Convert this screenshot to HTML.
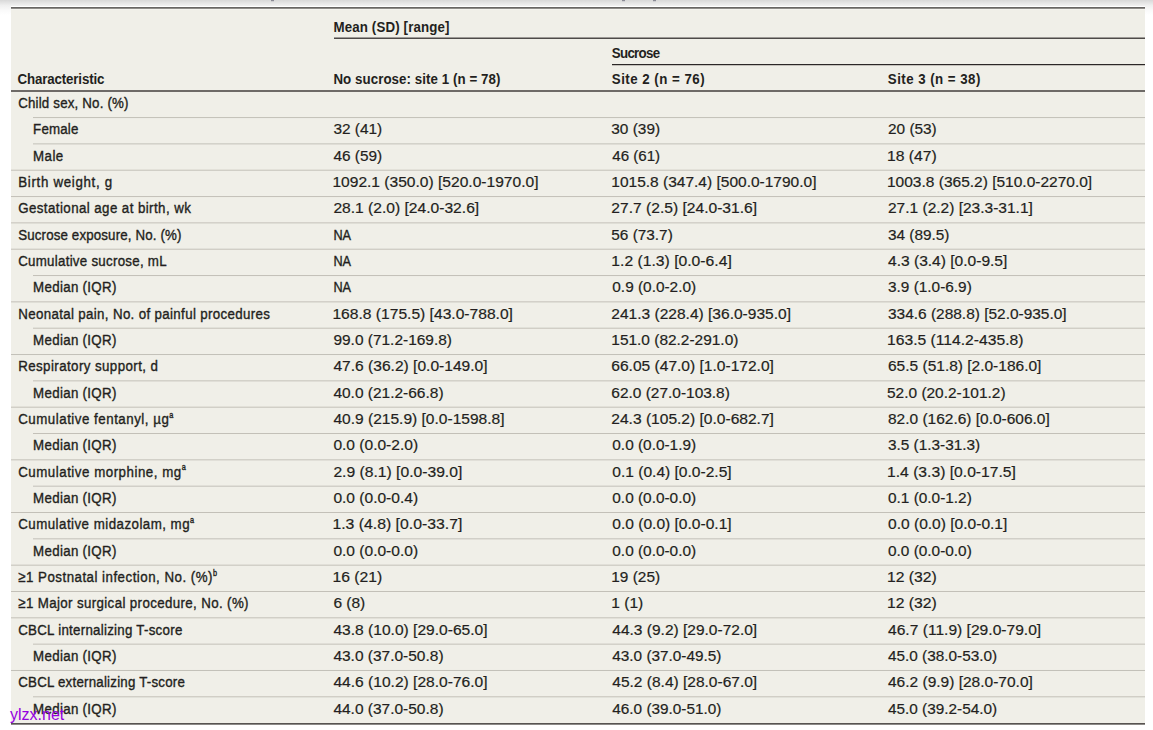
<!DOCTYPE html>
<html><head><meta charset="utf-8"><style>
html,body{margin:0;padding:0;background:#fff;width:1153px;height:730px;overflow:hidden}
svg{display:block}
text{font-family:"Liberation Sans",sans-serif;font-size:15.5px;fill:#231f20;stroke:#231f20;stroke-width:0.2px}
text[font-weight=bold]{stroke-width:0.0px}
.lb{stroke-width:0.38px}
.hb{stroke-width:0.8px}
.w{font-family:"Liberation Sans",sans-serif;font-size:16px;fill:#9600e0;stroke:none}
</style></head><body>
<svg width="1153" height="730" viewBox="0 0 1153 730">
<defs><linearGradient id="tg" x1="0" y1="0" x2="0" y2="1">
<stop offset="0" stop-color="#d8d8d8"/><stop offset="0.35" stop-color="#efefef"/><stop offset="0.7" stop-color="#fafafa"/><stop offset="1" stop-color="#ffffff"/></linearGradient></defs>
<rect x="0" y="0" width="1153" height="15" fill="url(#tg)"/>
<rect x="11" y="6" width="1134" height="1" fill="#ffffff"/>
<rect x="271" y="0" width="3" height="1.2" fill="#8a8a95"/><rect x="622" y="0" width="3" height="1.2" fill="#8a8a95"/><rect x="653" y="0" width="3" height="1.2" fill="#8a8a95"/>
<rect x="11" y="7" width="1134" height="718" fill="#f0efe8"/>
<rect x="11" y="7" width="1134" height="1" fill="#686664"/>
<rect x="11" y="8" width="1134" height="1" fill="#8e8c89"/>
<rect x="11" y="9" width="1134" height="1" fill="#f4f3ee"/>
<rect x="334" y="37" width="811" height="1" fill="#9d9a96"/>
<rect x="334" y="38" width="811" height="1" fill="#4e4a49"/>
<rect x="612" y="64" width="533" height="1" fill="#2b2727"/>
<rect x="612" y="65" width="533" height="1" fill="#c4c1bb"/>
<rect x="11" y="90" width="1134" height="2" fill="#6e6a67"/>
<rect x="11" y="723" width="1134" height="1" fill="#575351"/>
<rect x="11" y="724" width="1134" height="1" fill="#8d8a87"/>
<rect x="33" y="117.05" width="1112" height="1" fill="#c3c0b8"/>
<rect x="33" y="143.38" width="1112" height="1" fill="#c3c0b8"/>
<rect x="11" y="169.71" width="1134" height="1" fill="#c3c0b8"/>
<rect x="11" y="196.04" width="1134" height="1" fill="#c3c0b8"/>
<rect x="11" y="222.37" width="1134" height="1" fill="#c3c0b8"/>
<rect x="11" y="248.70" width="1134" height="1" fill="#c3c0b8"/>
<rect x="33" y="275.03" width="1112" height="1" fill="#c3c0b8"/>
<rect x="11" y="301.36" width="1134" height="1" fill="#c3c0b8"/>
<rect x="33" y="327.69" width="1112" height="1" fill="#c3c0b8"/>
<rect x="11" y="354.02" width="1134" height="1" fill="#c3c0b8"/>
<rect x="33" y="380.35" width="1112" height="1" fill="#c3c0b8"/>
<rect x="11" y="406.68" width="1134" height="1" fill="#c3c0b8"/>
<rect x="33" y="433.01" width="1112" height="1" fill="#c3c0b8"/>
<rect x="11" y="459.34" width="1134" height="1" fill="#c3c0b8"/>
<rect x="33" y="485.67" width="1112" height="1" fill="#c3c0b8"/>
<rect x="11" y="512.00" width="1134" height="1" fill="#c3c0b8"/>
<rect x="33" y="538.33" width="1112" height="1" fill="#c3c0b8"/>
<rect x="11" y="564.66" width="1134" height="1" fill="#c3c0b8"/>
<rect x="11" y="590.99" width="1134" height="1" fill="#c3c0b8"/>
<rect x="11" y="617.32" width="1134" height="1" fill="#c3c0b8"/>
<rect x="33" y="643.65" width="1112" height="1" fill="#c3c0b8"/>
<rect x="11" y="669.98" width="1134" height="1" fill="#c3c0b8"/>
<rect x="33" y="696.31" width="1112" height="1" fill="#c3c0b8"/>
<text transform="translate(333.40,31.90) scale(0.8600,1)" font-weight="bold" letter-spacing="0.160">Mean (SD) [range]</text>
<text transform="translate(611.80,57.60) scale(0.8600,1)" font-weight="bold" letter-spacing="-0.814">Sucrose</text>
<text transform="translate(17.60,84.00) scale(0.8600,1)" font-weight="bold" letter-spacing="-0.179">Characteristic</text>
<text transform="translate(333.40,84.00) scale(0.8600,1)" font-weight="bold" letter-spacing="0.072">No sucrose: site 1 (n = 78)</text>
<text transform="translate(611.80,84.00) scale(0.8600,1)" font-weight="bold" letter-spacing="0.548">Site 2 (n = 76)</text>
<text transform="translate(887.80,84.00) scale(0.8600,1)" font-weight="bold" letter-spacing="0.532">Site 3 (n = 38)</text>
<text transform="translate(18.20,107.97) scale(0.8600,1)" class="lb" letter-spacing="0.205">Child sex, No. (%)</text>
<text transform="translate(33.10,134.30) scale(0.8600,1)" class="lb" letter-spacing="0.186">Female</text>
<text transform="translate(333.40,134.30) scale(0.9923,1)">32 (41)</text>
<text transform="translate(611.30,134.30) scale(0.9945,1)">30 (39)</text>
<text transform="translate(888.00,134.30) scale(0.9928,1)">20 (53)</text>
<text transform="translate(33.10,160.63) scale(0.8600,1)" class="lb" letter-spacing="0.504">Male</text>
<text transform="translate(333.40,160.63) scale(0.9923,1)">46 (59)</text>
<text transform="translate(612.30,160.63) scale(0.9742,1)">46 (61)</text>
<text transform="translate(887.00,160.63) scale(1.0153,1)">18 (47)</text>
<text transform="translate(18.20,186.96) scale(0.8600,1)" class="lb" letter-spacing="0.797">Birth weight, g</text>
<text transform="translate(332.40,186.96) scale(1.0054,1)">1092.1 (350.0) [520.0-1970.0]</text>
<text transform="translate(611.30,186.96) scale(1.0005,1)">1015.8 (347.4) [500.0-1790.0]</text>
<text transform="translate(887.00,186.96) scale(1.0004,1)">1003.8 (365.2) [510.0-2270.0]</text>
<text transform="translate(18.20,213.29) scale(0.8600,1)" class="lb" letter-spacing="0.487">Gestational age at birth, wk</text>
<text transform="translate(333.40,213.29) scale(1.0077,1)">28.1 (2.0) [24.0-32.6]</text>
<text transform="translate(611.30,213.29) scale(1.0078,1)">27.7 (2.5) [24.0-31.6]</text>
<text transform="translate(888.00,213.29) scale(1.0010,1)">27.1 (2.2) [23.3-31.1]</text>
<text transform="translate(18.20,239.62) scale(0.8600,1)" class="lb" letter-spacing="0.165">Sucrose exposure, No. (%)</text>
<text transform="translate(333.40,239.62) scale(0.8198,1)" class="lb">NA</text>
<text transform="translate(611.30,239.62) scale(0.9921,1)">56 (73.7)</text>
<text transform="translate(888.00,239.62) scale(0.9916,1)">34 (89.5)</text>
<text transform="translate(18.20,265.95) scale(0.8600,1)" class="lb" letter-spacing="0.310">Cumulative sucrose, mL</text>
<text transform="translate(333.40,265.95) scale(0.8198,1)" class="lb">NA</text>
<text transform="translate(611.30,265.95) scale(1.0139,1)">1.2 (1.3) [0.0-6.4]</text>
<text transform="translate(888.00,265.95) scale(1.0051,1)">4.3 (3.4) [0.0-9.5]</text>
<text transform="translate(33.10,292.28) scale(0.8600,1)" class="lb" letter-spacing="0.359">Median (IQR)</text>
<text transform="translate(333.40,292.28) scale(0.8198,1)" class="lb">NA</text>
<text transform="translate(612.30,292.28) scale(0.9936,1)">0.9 (0.0-2.0)</text>
<text transform="translate(888.00,292.28) scale(0.9929,1)">3.9 (1.0-6.9)</text>
<text transform="translate(18.20,318.61) scale(0.8600,1)" class="lb" letter-spacing="0.400">Neonatal pain, No. of painful procedures</text>
<text transform="translate(332.40,318.61) scale(1.0087,1)">168.8 (175.5) [43.0-788.0]</text>
<text transform="translate(611.30,318.61) scale(1.0027,1)">241.3 (228.4) [36.0-935.0]</text>
<text transform="translate(888.00,318.61) scale(0.9972,1)">334.6 (288.8) [52.0-935.0]</text>
<text transform="translate(33.10,344.94) scale(0.8600,1)" class="lb" letter-spacing="0.359">Median (IQR)</text>
<text transform="translate(333.40,344.94) scale(0.9981,1)">99.0 (71.2-169.8)</text>
<text transform="translate(611.30,344.94) scale(0.9971,1)">151.0 (82.2-291.0)</text>
<text transform="translate(887.00,344.94) scale(1.0112,1)">163.5 (114.2-435.8)</text>
<text transform="translate(18.20,371.27) scale(0.8600,1)" class="lb" letter-spacing="0.482">Respiratory support, d</text>
<text transform="translate(333.40,371.27) scale(1.0064,1)">47.6 (36.2) [0.0-149.0]</text>
<text transform="translate(611.30,371.27) scale(1.0051,1)">66.05 (47.0) [1.0-172.0]</text>
<text transform="translate(888.00,371.27) scale(1.0000,1)">65.5 (51.8) [2.0-186.0]</text>
<text transform="translate(33.10,397.60) scale(0.8600,1)" class="lb" letter-spacing="0.359">Median (IQR)</text>
<text transform="translate(333.40,397.60) scale(0.9992,1)">40.0 (21.2-66.8)</text>
<text transform="translate(611.30,397.60) scale(0.9979,1)">62.0 (27.0-103.8)</text>
<text transform="translate(887.00,397.60) scale(0.9983,1)">52.0 (20.2-101.2)</text>
<text transform="translate(18.20,423.93) scale(0.8600,1)" class="lb" letter-spacing="0.592">Cumulative fentanyl, µg<tspan font-size="8.5" dy="-6.3">a</tspan></text>
<text transform="translate(333.40,423.93) scale(1.0038,1)">40.9 (215.9) [0.0-1598.8]</text>
<text transform="translate(611.30,423.93) scale(1.0051,1)">24.3 (105.2) [0.0-682.7]</text>
<text transform="translate(888.00,423.93) scale(0.9988,1)">82.0 (162.6) [0.0-606.0]</text>
<text transform="translate(33.10,450.26) scale(0.8600,1)" class="lb" letter-spacing="0.359">Median (IQR)</text>
<text transform="translate(333.40,450.26) scale(1.0041,1)">0.0 (0.0-2.0)</text>
<text transform="translate(612.30,450.26) scale(0.9936,1)">0.0 (0.0-1.9)</text>
<text transform="translate(888.00,450.26) scale(0.9917,1)">3.5 (1.3-31.3)</text>
<text transform="translate(18.20,476.59) scale(0.8600,1)" class="lb" letter-spacing="0.597">Cumulative morphine, mg<tspan font-size="8.5" dy="-6.3">a</tspan></text>
<text transform="translate(333.40,476.59) scale(1.0113,1)">2.9 (8.1) [0.0-39.0]</text>
<text transform="translate(612.30,476.59) scale(1.0051,1)">0.1 (0.4) [0.0-2.5]</text>
<text transform="translate(887.00,476.59) scale(1.0118,1)">1.4 (3.3) [0.0-17.5]</text>
<text transform="translate(33.10,502.92) scale(0.8600,1)" class="lb" letter-spacing="0.359">Median (IQR)</text>
<text transform="translate(333.40,502.92) scale(1.0041,1)">0.0 (0.0-0.4)</text>
<text transform="translate(612.30,502.92) scale(0.9936,1)">0.0 (0.0-0.0)</text>
<text transform="translate(888.00,502.92) scale(0.9928,1)">0.1 (0.0-1.2)</text>
<text transform="translate(18.20,529.25) scale(0.8600,1)" class="lb" letter-spacing="0.547">Cumulative midazolam, mg<tspan font-size="8.5" dy="-6.3">a</tspan></text>
<text transform="translate(332.40,529.25) scale(1.0199,1)">1.3 (4.8) [0.0-33.7]</text>
<text transform="translate(612.30,529.25) scale(1.0051,1)">0.0 (0.0) [0.0-0.1]</text>
<text transform="translate(888.00,529.25) scale(1.0051,1)">0.0 (0.0) [0.0-0.1]</text>
<text transform="translate(33.10,555.58) scale(0.8600,1)" class="lb" letter-spacing="0.359">Median (IQR)</text>
<text transform="translate(333.40,555.58) scale(1.0041,1)">0.0 (0.0-0.0)</text>
<text transform="translate(612.30,555.58) scale(0.9936,1)">0.0 (0.0-0.0)</text>
<text transform="translate(888.00,555.58) scale(0.9928,1)">0.0 (0.0-0.0)</text>
<text transform="translate(18.20,581.91) scale(0.8600,1)" class="lb" letter-spacing="0.563">≥1 Postnatal infection, No. (%)<tspan font-size="8.5" dy="-6.3">b</tspan></text>
<text transform="translate(332.40,581.91) scale(1.0147,1)">16 (21)</text>
<text transform="translate(611.30,581.91) scale(0.9940,1)">19 (25)</text>
<text transform="translate(887.00,581.91) scale(1.0153,1)">12 (32)</text>
<text transform="translate(18.20,608.24) scale(0.8600,1)" class="lb" letter-spacing="0.429">≥1 Major surgical procedure, No. (%)</text>
<text transform="translate(333.40,608.24) scale(1.0001,1)">6 (8)</text>
<text transform="translate(611.30,608.24) scale(1.0043,1)">1 (1)</text>
<text transform="translate(887.00,608.24) scale(1.0153,1)">12 (32)</text>
<text transform="translate(18.20,634.57) scale(0.8600,1)" class="lb" letter-spacing="0.302">CBCL internalizing T-score</text>
<text transform="translate(333.40,634.57) scale(1.0064,1)">43.8 (10.0) [29.0-65.0]</text>
<text transform="translate(612.30,634.57) scale(1.0010,1)">44.3 (9.2) [29.0-72.0]</text>
<text transform="translate(888.00,634.57) scale(1.0065,1)">46.7 (11.9) [29.0-79.0]</text>
<text transform="translate(33.10,660.90) scale(0.8600,1)" class="lb" letter-spacing="0.359">Median (IQR)</text>
<text transform="translate(333.40,660.90) scale(0.9992,1)">43.0 (37.0-50.8)</text>
<text transform="translate(612.30,660.90) scale(0.9903,1)">43.0 (37.0-49.5)</text>
<text transform="translate(888.00,660.90) scale(0.9906,1)">45.0 (38.0-53.0)</text>
<text transform="translate(18.20,687.23) scale(0.8600,1)" class="lb" letter-spacing="0.251">CBCL externalizing T-score</text>
<text transform="translate(333.40,687.23) scale(1.0064,1)">44.6 (10.2) [28.0-76.0]</text>
<text transform="translate(612.30,687.23) scale(1.0010,1)">45.2 (8.4) [28.0-67.0]</text>
<text transform="translate(888.00,687.23) scale(1.0009,1)">46.2 (9.9) [28.0-70.0]</text>
<text transform="translate(33.10,713.56) scale(0.8600,1)" class="lb" letter-spacing="0.359">Median (IQR)</text>
<text transform="translate(333.40,713.56) scale(0.9992,1)">44.0 (37.0-50.8)</text>
<text transform="translate(612.30,713.56) scale(0.9903,1)">46.0 (39.0-51.0)</text>
<text transform="translate(888.00,713.56) scale(0.9906,1)">45.0 (39.2-54.0)</text>
<text class="w" x="10" y="719.6">ylzx.net</text>
</svg></body></html>
